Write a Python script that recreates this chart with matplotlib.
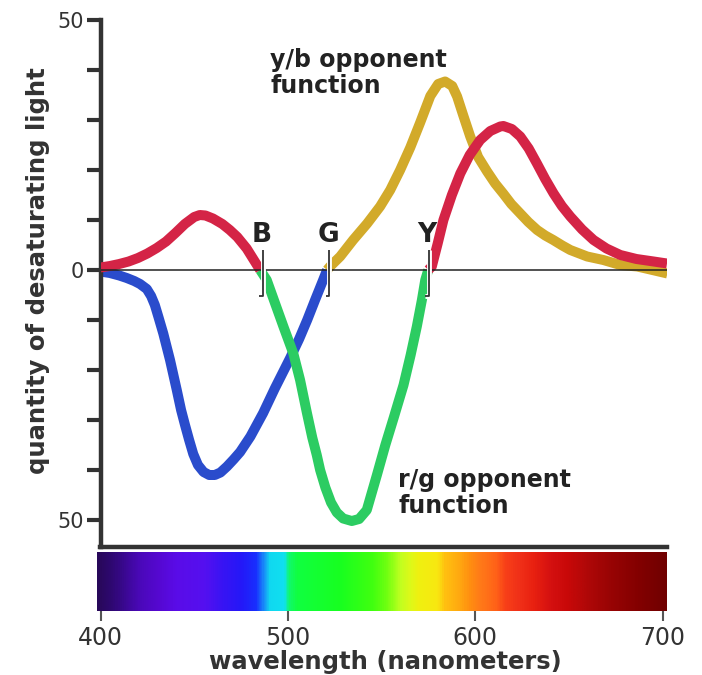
import numpy as np
import matplotlib
matplotlib.use("Agg")
from matplotlib import pyplot as plt
from matplotlib.colors import LinearSegmentedColormap

# opponent curves (wavelength nm, value)
red_short_wl = [400, 405, 410, 415, 420, 425, 430, 435, 440, 445, 450, 453, 456, 460, 465,
                469, 473, 478, 481, 483.5, 485.2]
red_short_v = [0.5, 0.8, 1.2, 1.7, 2.4, 3.3, 4.4, 5.7, 7.4, 9.2, 10.6, 11, 10.9, 10.3, 9.2,
               8, 6.6, 4.3, 2.5, 1, 0]

blue_wl = [400, 405, 410, 414, 418, 421.1, 424.7, 427, 429, 431, 433.5, 437.1, 440.7, 443,
           445.1, 447.3, 449.5, 452, 455, 458, 461, 464, 467.5, 471, 474.5, 480, 486.8,
           493, 501.2, 506, 510.3, 514.5, 518.8, 520.9]
blue_v = [-0.3, -0.6, -1.1, -1.6, -2.2, -2.8, -3.8, -5.2, -7, -9.5, -12.7, -18, -24, -28,
          -31, -34, -36.8, -39, -40.4, -41, -41, -40.5, -39.3, -37.9, -36.4, -33.3, -28.6,
          -23.7, -17.6, -13.8, -10, -6, -2, 0]

green_wl = [485.2, 488.7, 493, 497.6, 502.9, 506.5, 510.1, 513, 515.4, 517.2, 520, 523,
            526.1, 529.5, 534.1, 538, 542.1, 547.5, 552, 556.5, 561.7, 565.5, 568.8,
            571.5, 573.3, 574.9]
green_v = [0, -2, -6.5, -11.3, -16.7, -22, -28.5, -33.5, -37, -40, -43.5, -46.5,
           -48.5, -49.7, -50.2, -49.8, -48, -41, -35, -29.5, -23, -17, -11.3,
           -6, -2, 0]

yellow_wl = [520.9, 522.5, 527.9, 534.8, 542.3, 549.2, 554.6, 559.9, 565.3, 570.6, 576,
             580.2, 583.9, 587.7, 590.3, 593.5, 597.3, 601.5, 606.3, 610.6, 614.9, 619.2,
             624, 628.3, 633, 637.3, 641.6, 646.4, 650.7, 659.7, 668.3, 677.4, 686.4,
             694.5, 702.5]
yellow_v = [0, 0.7, 2.7, 6, 9.3, 12.7, 16, 20, 24.5, 29.5, 34.8,
            37.2, 37.7, 36.8, 34.7, 31, 26.7, 22.6, 19.7, 17.3, 15.3, 13.2,
            11.3, 9.6, 8, 6.9, 6, 4.9, 4, 2.7, 2, 1, 0.7,
            0, -0.7]

red_long_wl = [574.9, 576.8, 580, 583, 587.5, 592, 597, 602.6, 608, 613.3, 615, 619.5, 624,
               628.5, 632.9, 637.3, 641.8, 646.2, 650.7, 657, 663.1, 670, 677.4, 686,
               695.2, 702.3]
red_long_v = [0, 0.7, 5.4, 10, 15, 19.3, 23, 26, 27.8, 28.7, 28.8, 28.2, 26.7,
              24.3, 21.3, 18.2, 15.3, 12.8, 10.7, 8.1, 6, 4.3, 3, 2.2,
              1.7, 1.3]

# zero crossings marked with letters
mark_wl = [486.6, 522.2, 575.5]
mark_txt = ["B", "G", "Y"]
mark_txt_wl = [486.2, 521.5, 574.3]

# spectrum colour stops
spec_wl = [398, 405, 412, 420, 430, 440, 455, 465, 475, 483, 487, 490, 498, 500, 505, 528,
           545, 553, 560, 566, 570, 580, 584, 592, 597, 603, 612, 616, 624, 632, 641, 650,
           660, 673, 690, 702.3]
spec_col = ["#28085a", "#2e0870", "#3a0890", "#4a08b8", "#5508d0", "#5a0ce8", "#5510f0",
            "#3814f4", "#2418f8", "#1830ff", "#1890f8", "#10d8f0", "#10e0f0", "#10f870",
            "#10ff40", "#18ff20", "#40ff10", "#70ff10", "#c0ff20", "#e0f818", "#f0f010",
            "#f8e810", "#ffc010", "#ffa810", "#ff9010", "#ff7a18", "#ff6018", "#f84018",
            "#f03018", "#e82010", "#d41010", "#c80808", "#b00808", "#980404", "#800000",
            "#700000"]

W, H = 702, 675
dark = "#333333"
fig = plt.figure(figsize=(W / 100, H / 100), dpi=100)

def box(x0, y0, x1, y1):
    return [x0 / W, 1 - y1 / H, (x1 - x0) / W, (y1 - y0) / H]

ax = fig.add_axes(box(100.5, 20, 667, 547))
ax.set_xlim(400, 702.3)
ax.set_ylim(-55.4, 50)

lw = 7.2
style = dict(lw=lw, solid_capstyle="butt", solid_joinstyle="round")
ax.plot(blue_wl, blue_v, color="#2a4ccc", zorder=2, **style)
ax.plot(green_wl, green_v, color="#2ccc62", zorder=3, **style)
ax.plot(yellow_wl, yellow_v, color="#d2aa2a", zorder=3, **style)
ax.plot(red_short_wl, red_short_v, color="#d42446", zorder=4, **style)
ax.plot(red_long_wl, red_long_v, color="#d42446", zorder=4, **style)

ax.axhline(0, color="#222222", lw=1.1, zorder=5)

for wl, t, twl in zip(mark_wl, mark_txt, mark_txt_wl):
    bx = [wl, wl, wl - 2.1]
    by = [4, -5.2, -5.2]
    ax.plot(bx, by, color="white", lw=3.5, zorder=6, solid_capstyle="butt")
    ax.plot(bx, by, color=dark, lw=1.3, zorder=7, solid_capstyle="butt")
    ax.text(twl, 5.6, t, ha="center", va="baseline", fontsize=19, fontweight="bold", color="#222222")

ax.text(490.5, 44.4, "y/b opponent\nfunction", ha="left", va="top", fontsize=17,
        fontweight="bold", color="#222222", linespacing=1.12)
ax.text(558.8, -39.6, "r/g opponent\nfunction", ha="left", va="top", fontsize=17,
        fontweight="bold", color="#222222", linespacing=1.12)

for s in ["top", "right"]:
    ax.spines[s].set_visible(False)
for s in ["left", "bottom"]:
    ax.spines[s].set_linewidth(3.2)
    ax.spines[s].set_color(dark)
ax.set_xticks([])
ax.set_yticks([50, 40, 30, 20, 10, 0, -10, -20, -30, -40, -50])
ax.set_yticklabels(["50", "", "", "", "", "0", "", "", "", "", "50"])
ax.tick_params(axis="y", length=10, width=3, color=dark, labelsize=15, labelcolor=dark, pad=2)

# spectrum strip
sx = fig.add_axes(box(97, 552, 667, 611))
lo, hi = 398.1, 702.3
stops = [((w - lo) / (hi - lo)) for w in spec_wl]
stops[0], stops[-1] = 0.0, 1.0
cmap = LinearSegmentedColormap.from_list("spec", list(zip(stops, spec_col)))
grad = np.linspace(0, 1, 800)[None, :]
sx.imshow(grad, cmap=cmap, aspect="auto", extent=[lo, hi, 0, 1])
sx.set_xlim(lo, hi)
sx.set_yticks([])
sx.set_xticks([400, 500, 600, 700])
sx.tick_params(axis="x", length=7, width=1.5, color="#555555", labelsize=17, labelcolor=dark, pad=4)
for s in sx.spines.values():
    s.set_visible(False)

fig.text(385 / W, 1 - 662 / H, "wavelength (nanometers)", ha="center", va="center",
         fontsize=17.5, fontweight="bold", color=dark)
fig.text(38 / W, 1 - 271 / H, "quantity of desaturating light", ha="center", va="center",
         rotation=90, fontsize=17.5, fontweight="bold", color=dark)

fig.savefig("out.png", dpi=100)
